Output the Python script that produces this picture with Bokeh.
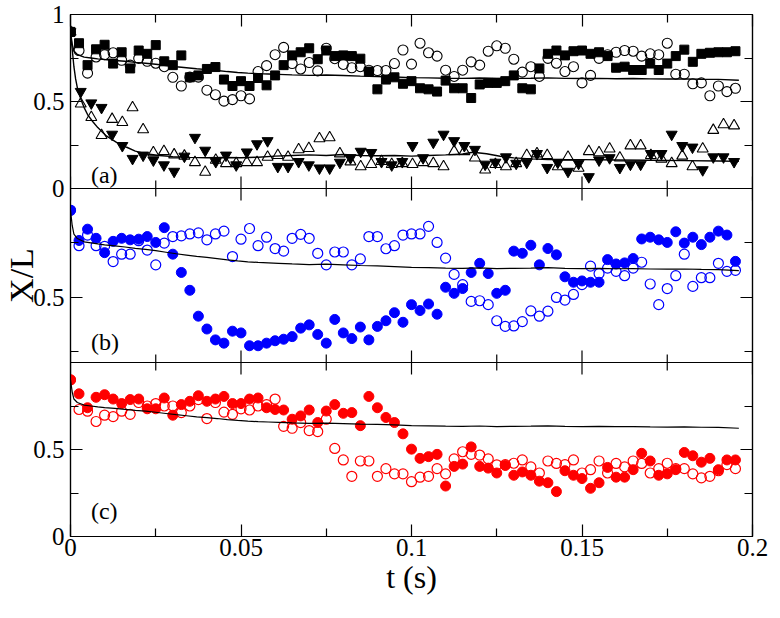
import math
from bokeh.plotting import figure
from bokeh.models import Range1d, LinearAxis, FixedTicker, Label, Span
from bokeh.embed import file_html
from bokeh.resources import INLINE

# ---------------- data ----------------
t_sq = [0.0, 0.0025, 0.005, 0.0075, 0.01, 0.0125, 0.015, 0.0175, 0.02, 0.0225,
        0.025, 0.0275, 0.03, 0.0325, 0.035, 0.0375, 0.04, 0.0425, 0.045, 0.0475,
        0.05, 0.0525, 0.055, 0.0575, 0.06, 0.0625, 0.065, 0.0675, 0.07, 0.0725,
        0.075, 0.0775, 0.08, 0.0825, 0.085, 0.0875, 0.09, 0.0925, 0.095, 0.0975,
        0.1, 0.1025, 0.105, 0.1075, 0.11, 0.1125, 0.115, 0.1175, 0.12, 0.1225,
        0.125, 0.1275, 0.13, 0.1325, 0.135, 0.1375, 0.14, 0.1425, 0.145, 0.1475,
        0.15, 0.1525, 0.155, 0.1575, 0.16, 0.1625, 0.165, 0.1675, 0.17, 0.1725,
        0.175, 0.1775, 0.18, 0.1825, 0.185, 0.1875, 0.19, 0.1925, 0.195]
t_tri = [0.0, 0.003, 0.0061, 0.0091, 0.0122, 0.0152, 0.0182, 0.0213, 0.0243, 0.0274,
         0.0304, 0.0334, 0.0365, 0.0395, 0.0426, 0.0456, 0.0486, 0.0517, 0.0547, 0.0578,
         0.0608, 0.0638, 0.0669, 0.0699, 0.073, 0.076, 0.079, 0.0821, 0.0851, 0.0882,
         0.0912, 0.0942, 0.0973, 0.1003, 0.1034, 0.1064, 0.1094, 0.1125, 0.1155, 0.1186,
         0.1216, 0.1246, 0.1277, 0.1307, 0.1338, 0.1368, 0.1398, 0.1429, 0.1459, 0.149,
         0.152, 0.155, 0.1581, 0.1611, 0.1642, 0.1672, 0.1702, 0.1733, 0.1763, 0.1794,
         0.1824, 0.1854, 0.1885, 0.1915, 0.1946]

a_squares = [0.9, 0.835, 0.709, 0.80, 0.826, 0.718, 0.783, 0.69, 0.793, 0.774,
             0.824, 0.731, 0.709, 0.765, 0.639, 0.65, 0.687, 0.698, 0.626, 0.589,
             0.617, 0.589, 0.635, 0.593, 0.65, 0.709, 0.765, 0.783, 0.806, 0.743,
             0.793, 0.761, 0.765, 0.761, 0.746, 0.672, 0.57, 0.626, 0.639, 0.602,
             0.617, 0.576, 0.57, 0.557, 0.62, 0.576, 0.576, 0.52, 0.598, 0.607,
             0.607, 0.617, 0.65, 0.576, 0.57, 0.69, 0.774, 0.793, 0.765, 0.789,
             0.793, 0.774, 0.783, 0.761, 0.694, 0.70, 0.681, 0.681, 0.718, 0.681,
             0.718, 0.761, 0.798, 0.728, 0.774, 0.78, 0.783, 0.783, 0.789]
a_circles = [0.9, 0.793, 0.663, 0.756, 0.769, 0.78, 0.737, 0.709, 0.748, 0.731,
             0.72, 0.70, 0.639, 0.589, 0.64, 0.64, 0.565, 0.539, 0.502, 0.511,
             0.533, 0.515, 0.672, 0.706, 0.769, 0.811, 0.718, 0.687, 0.724, 0.676,
             0.806, 0.746, 0.713, 0.694, 0.70, 0.68, 0.678, 0.678, 0.718, 0.796,
             0.715, 0.835, 0.78, 0.761, 0.68, 0.644, 0.68, 0.728, 0.709, 0.789,
             0.82, 0.806, 0.743, 0.669, 0.70, 0.644, 0.748, 0.72, 0.672, 0.70,
             0.607, 0.65, 0.748, 0.769, 0.783, 0.793, 0.789, 0.761, 0.774, 0.769,
             0.835, 0.657, 0.657, 0.602, 0.607, 0.533, 0.589, 0.557, 0.576]
a_down = [0.9, 0.557, 0.491, 0.465, 0.311, 0.246, 0.172, 0.191, 0.163, 0.135,
          0.098, 0.185, 0.293, 0.219, 0.154, 0.191, 0.135, 0.209, 0.256, 0.274,
          0.126, 0.126, 0.154, 0.135, 0.117, 0.117, 0.15, 0.176, 0.213, 0.206,
          0.154, 0.135, 0.154, 0.246, 0.176, 0.265, 0.311, 0.274, 0.246, 0.224,
          0.139, 0.15, 0.181, 0.144, 0.15, 0.2, 0.12, 0.15, 0.098, 0.144,
          0.067, 0.163, 0.176, 0.12, 0.139, 0.139, 0.2, 0.2, 0.311, 0.246,
          0.237, 0.107, 0.181, 0.181, 0.154]
a_up = [0.9, 0.487, 0.409, 0.306, 0.398, 0.38, 0.465, 0.339, 0.206, 0.213,
        0.194, 0.187, 0.15, 0.094, 0.163, 0.144, 0.144, 0.15, 0.15, 0.181,
        0.191, 0.181, 0.224, 0.231, 0.287, 0.293, 0.2, 0.154, 0.126, 0.139,
        0.156, 0.139, 0.144, 0.139, 0.15, 0.144, 0.126, 0.213, 0.213, 0.176,
        0.107, 0.139, 0.126, 0.144, 0.191, 0.2, 0.191, 0.126, 0.181, 0.117,
        0.213, 0.206, 0.228, 0.176, 0.246, 0.246, 0.191, 0.17, 0.144, 0.187,
        0.126, 0.228, 0.335, 0.367, 0.361]

b_filled = [0.9, 0.761, 0.813, 0.771, 0.705, 0.757, 0.771, 0.764, 0.767, 0.779,
            0.752, 0.82, 0.698, 0.614, 0.532, 0.413, 0.354, 0.304, 0.289, 0.344,
            0.336, 0.277, 0.277, 0.289, 0.30, 0.307, 0.319, 0.358, 0.373, 0.329,
            0.289, 0.398, 0.336, 0.31, 0.363, 0.304, 0.366, 0.392, 0.429, 0.385,
            0.466, 0.439, 0.469, 0.422, 0.546, 0.518, 0.54, 0.614, 0.656, 0.609,
            0.518, 0.532, 0.712, 0.702, 0.739, 0.649, 0.724, 0.695, 0.594, 0.569,
            0.575, 0.569, 0.569, 0.673, 0.653, 0.658, 0.678, 0.768, 0.776, 0.764,
            0.752, 0.801, 0.749, 0.776, 0.742, 0.776, 0.804, 0.786, 0.665]
b_open = [0.9, 0.737, 0.786, 0.737, 0.734, 0.664, 0.698, 0.698, 0.76, 0.717,
          0.649, 0.749, 0.779, 0.782, 0.791, 0.796, 0.764, 0.791, 0.804, 0.687,
          0.767, 0.816, 0.737, 0.776, 0.724, 0.712, 0.771, 0.789, 0.771, 0.702,
          0.649, 0.708, 0.708, 0.649, 0.676, 0.779, 0.779, 0.723, 0.737, 0.786,
          0.791, 0.791, 0.826, 0.752, 0.68, 0.605, 0.558, 0.481, 0.484, 0.466,
          0.392, 0.366, 0.368, 0.388, 0.437, 0.413, 0.436, 0.499, 0.487, 0.513,
          0.558, 0.643, 0.609, 0.634, 0.619, 0.599, 0.634, 0.661, 0.561, 0.466,
          0.54, 0.599, 0.698, 0.55, 0.59, 0.59, 0.656, 0.619, 0.624]

c_filled = [0.9, 0.82, 0.74, 0.80, 0.815, 0.79, 0.764, 0.787, 0.79, 0.734,
            0.734, 0.796, 0.697, 0.758, 0.777, 0.809, 0.777, 0.79, 0.805, 0.764,
            0.764, 0.79, 0.796, 0.74, 0.73, 0.727, 0.674, 0.693, 0.727, 0.655,
            0.721, 0.758, 0.708, 0.712, 0.637, 0.805, 0.74, 0.684, 0.655, 0.59,
            0.502, 0.449, 0.459, 0.472, 0.29, 0.403, 0.416, 0.515, 0.403, 0.393,
            0.365, 0.408, 0.352, 0.371, 0.352, 0.318, 0.309, 0.258, 0.378, 0.352,
            0.333, 0.277, 0.309, 0.397, 0.341, 0.341, 0.384, 0.478, 0.434, 0.352,
            0.36, 0.384, 0.483, 0.464, 0.427, 0.449, 0.384, 0.44, 0.44]
c_open = [0.9, 0.73, 0.72, 0.661, 0.697, 0.689, 0.72, 0.702, 0.77, 0.75,
          0.764, 0.75, 0.75, 0.712, 0.75, 0.787, 0.678, 0.77, 0.715, 0.702,
          0.734, 0.727, 0.75, 0.758, 0.79, 0.633, 0.622, 0.655, 0.609, 0.603,
          0.674, 0.506, 0.44, 0.346, 0.434, 0.434, 0.346, 0.39, 0.36, 0.36,
          0.315, 0.341, 0.346, 0.39, 0.36, 0.446, 0.487, 0.472, 0.468, 0.446,
          0.412, 0.413, 0.421, 0.44, 0.40, 0.365, 0.434, 0.42, 0.413, 0.44,
          0.365, 0.384, 0.434, 0.365, 0.42, 0.40, 0.434, 0.42, 0.365, 0.39,
          0.421, 0.39, 0.39, 0.36, 0.337, 0.346, 0.378, 0.413, 0.39]

t_mean = [0, 0.0005, 0.001, 0.002, 0.004, 0.006, 0.008, 0.01,
          0.013, 0.016, 0.019, 0.022, 0.025, 0.028, 0.031, 0.034, 0.037, 0.04,
          0.043, 0.046, 0.049, 0.052, 0.055, 0.058, 0.061, 0.065,
          0.07, 0.075, 0.08, 0.085, 0.09, 0.095, 0.1,
          0.105, 0.11, 0.115, 0.12, 0.125, 0.13, 0.135, 0.14, 0.145, 0.15,
          0.155, 0.16, 0.165, 0.17, 0.175, 0.18, 0.185, 0.19, 0.196]
v_mean = [0.9, 0.83, 0.79, 0.77, 0.755, 0.75, 0.745, 0.741,
          0.736, 0.731, 0.725, 0.72, 0.714, 0.707, 0.70, 0.694, 0.688, 0.683,
          0.678, 0.672, 0.667, 0.663, 0.66, 0.658, 0.656, 0.653,
          0.65, 0.652, 0.649, 0.646, 0.644, 0.641, 0.637,
          0.636, 0.634, 0.633, 0.635, 0.632, 0.633, 0.634, 0.636, 0.633, 0.632,
          0.633, 0.631, 0.632, 0.63, 0.629, 0.63, 0.628, 0.627, 0.622]
t_low = [0, 0.0005, 0.001, 0.0015, 0.002, 0.003, 0.004, 0.005, 0.0065, 0.008,
         0.0105, 0.0135, 0.0165, 0.019, 0.022, 0.026, 0.03, 0.035, 0.04, 0.045,
         0.05, 0.055, 0.06, 0.065, 0.07, 0.075, 0.08, 0.085, 0.09, 0.095,
         0.1, 0.105, 0.11, 0.115, 0.118, 0.122, 0.126, 0.13, 0.135, 0.14,
         0.15, 0.16, 0.17, 0.18, 0.19, 0.196]
v_low = [0.9, 0.80, 0.70, 0.63, 0.58, 0.515, 0.465, 0.425, 0.385, 0.35,
         0.302, 0.265, 0.237, 0.215, 0.2, 0.19, 0.183, 0.179, 0.177, 0.178,
         0.177, 0.18, 0.186, 0.19, 0.193, 0.19, 0.195, 0.19, 0.188, 0.19,
         0.186, 0.19, 0.193, 0.198, 0.208, 0.2, 0.185, 0.176, 0.17, 0.167,
         0.166, 0.164, 0.162, 0.16, 0.158, 0.156]

x_major = [0, 0.05, 0.1, 0.15, 0.2]
x_minor = [0.025, 0.075, 0.125, 0.175]
x_labels = ["0", "0.05", "0.1", "0.15", "0.2"]
a_ticks, a_labels = [0, 0.5, 1], ["0", "0.5", "1"]
b_ticks, b_labels = [0.5], ["0.5"]
c_ticks, c_labels = [0, 0.5], ["0", "0.5"]
panel_minor = [0.25, 0.75]
panel_names = ["(a)", "(b)", "(c)"]

# ---------------- figure ----------------
FONT = "Times New Roman"
BLUE = "#0000ff"
RED = "#ff0000"

p = figure(frame_width=682, frame_height=522,
           min_border_left=66, min_border_right=16, min_border_top=14, min_border_bottom=66,
           x_range=Range1d(0, 0.2), y_range=Range1d(0, 3),
           x_axis_location=None, y_axis_location=None,
           output_backend="svg", toolbar_location=None)
p.xgrid.visible = False
p.ygrid.visible = False
p.outline_line_color = "black"
p.outline_line_width = 1.2
p.background_fill_color = "white"
p.border_fill_color = "white"

ra = Range1d(-2, 1)      # (a): 0..1 in the top third
rb = Range1d(-0.6, 1.8)  # (b): 0.2..1.0 in the middle third
rc = Range1d(0, 3)       # (c): 0..1 in the bottom third
p.extra_y_ranges = {"a": ra, "b": rb, "c": rc}


def virt(r, v):
    return round((v - r.start) / (r.end - r.start) * 3, 6)


y_major, y_minor, y_over = [], [], {}
for r, tk, lb in [(ra, a_ticks, a_labels), (rb, b_ticks, b_labels), (rc, c_ticks, c_labels)]:
    for v, s in zip(tk, lb):
        vv = virt(r, v)
        y_major.append(vv)
        y_over[vv] = s
    for v in panel_minor:
        y_minor.append(virt(r, v))


def make_axis(major, minor, overrides=None):
    ax = LinearAxis(ticker=FixedTicker(ticks=major, minor_ticks=minor))
    ax.major_tick_in = 12
    ax.major_tick_out = 0
    ax.minor_tick_in = 8
    ax.minor_tick_out = 0
    ax.axis_line_color = "black"
    ax.axis_line_width = 1.2
    ax.major_tick_line_color = "black"
    ax.major_tick_line_width = 1.2
    ax.minor_tick_line_color = "black"
    ax.minor_tick_line_width = 1.2
    if overrides:
        ax.major_label_overrides = overrides
        ax.major_label_text_font = FONT
        ax.major_label_text_font_size = "25px"
        ax.major_label_text_color = "black"
        ax.major_label_standoff = 6
    else:
        ax.major_label_overrides = {m: "" for m in major}
        ax.major_label_text_font_size = "2px"
        ax.major_label_standoff = 0
    return ax


left = make_axis(y_major, y_minor, y_over)
left.axis_label = "X/L"
left.axis_label_text_font = FONT
left.axis_label_text_font_size = "34px"
left.axis_label_text_font_style = "normal"
left.axis_label_text_color = "black"
left.axis_label_standoff = -10
p.add_layout(left, "left")
p.add_layout(make_axis(y_major, y_minor), "right")
bottom = make_axis(x_major, x_minor, dict(zip(x_major, x_labels)))
bottom.major_label_standoff = 2
bottom.axis_label = "t (s)"
bottom.axis_label_text_font = FONT
bottom.axis_label_text_font_size = "32px"
bottom.axis_label_text_font_style = "normal"
bottom.axis_label_text_color = "black"
bottom.axis_label_standoff = 0
p.add_layout(bottom, "below")
p.add_layout(make_axis(x_major, x_minor), "above")

for b in (1, 2):
    p.add_layout(Span(location=b, dimension="width", line_color="black", line_width=1.2))
p.scatter(x_major * 2, [1] * len(x_major) + [2] * len(x_major), marker="dash",
          angle=math.pi / 2, size=24, line_color="black", line_width=1.2)
p.scatter(x_minor * 2, [1] * len(x_minor) + [2] * len(x_minor), marker="dash",
          angle=math.pi / 2, size=16, line_color="black", line_width=1.2)

p.scatter(t_sq, a_circles, y_range_name="a", marker="circle", size=10,
          fill_color=None, line_color="black", line_width=1.1)
p.scatter(t_sq, a_squares, y_range_name="a", marker="square", size=9, color="black")
p.scatter(t_tri, a_up, y_range_name="a", marker="triangle", size=11,
          fill_color=None, line_color="black", line_width=1.1)
p.scatter(t_tri, a_down, y_range_name="a", marker="inverted_triangle", size=11, color="black")
p.line(t_mean, v_mean, y_range_name="a", line_color="black", line_width=1.4)
p.line(t_low, v_low, y_range_name="a", line_color="black", line_width=1.4)

p.scatter(t_sq, b_open, y_range_name="b", marker="circle", size=10,
          fill_color=None, line_color=BLUE, line_width=1.2)
p.scatter(t_sq, b_filled, y_range_name="b", marker="circle", size=10, color=BLUE)
p.line(t_mean, v_mean, y_range_name="b", line_color="black", line_width=1.2)

p.scatter(t_sq, c_open, y_range_name="c", marker="circle", size=10,
          fill_color=None, line_color=RED, line_width=1.2)
p.scatter(t_sq, c_filled, y_range_name="c", marker="circle", size=10, color=RED)
p.line(t_mean, v_mean, y_range_name="c", line_color="black", line_width=1.2)

for name, rn, yv in zip(panel_names, ["a", "b", "c"], [0.075, 0.296, 0.146]):
    p.add_layout(Label(x=0.006, y=yv, y_range_name=rn, text=name, text_font=FONT,
                       text_font_size="24px", text_baseline="middle", text_color="black"))

open("out.html", "w").write(file_html(p, INLINE))
